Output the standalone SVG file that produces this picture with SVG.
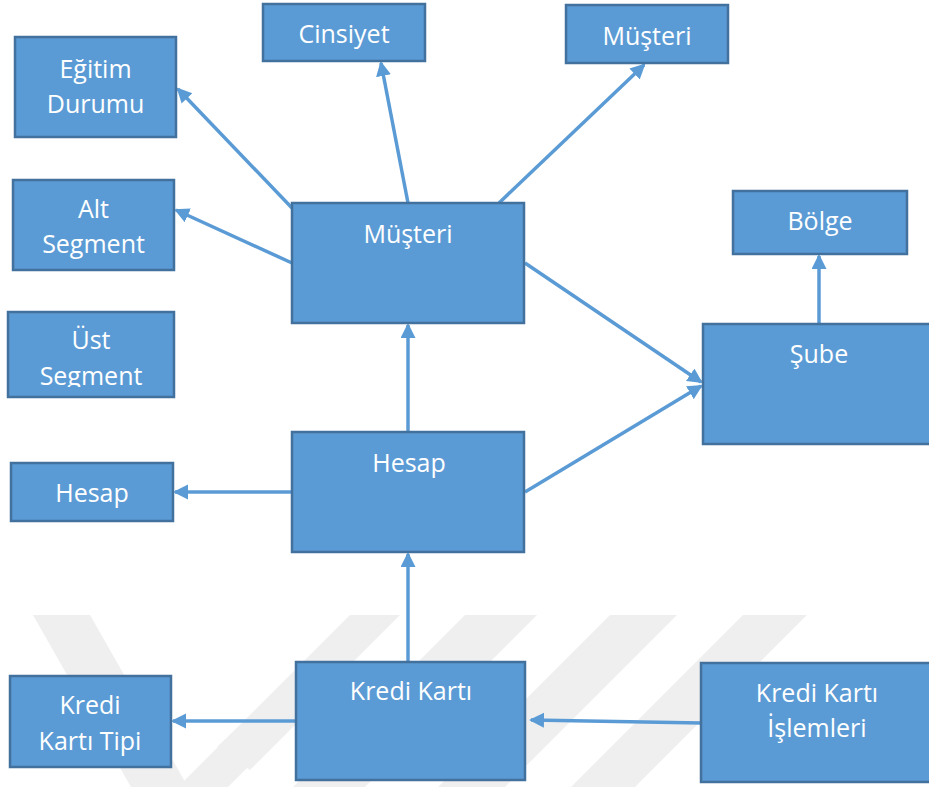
<svg xmlns="http://www.w3.org/2000/svg" width="929" height="787" viewBox="0 0 929 787">
  <defs>
    <style>
      .box { fill: #5B9BD5; stroke: #41719C; stroke-width: 2.5; }
      .lbl { fill: #FFFFFF; font-family: "Open Sans", "Noto Sans", "Liberation Sans", sans-serif; font-size: 25px; text-anchor: middle; }
      .link { fill: none; stroke: #5B9BD5; stroke-width: 3.5; marker-end: url(#arrow); }
      .mark { fill: #EFEFEF; }
    </style>
    <marker id="arrow" markerUnits="userSpaceOnUse" markerWidth="18" markerHeight="16" refX="13" refY="7.5" orient="auto">
      <path d="M0,0 L15,7.5 L0,15 z" fill="#5B9BD5"/>
    </marker>
    <clipPath id="ustClip">
      <rect x="8" y="312" width="166" height="75"/>
    </clipPath>
  </defs>

  <rect x="0" y="0" width="929" height="787" fill="#FFFFFF"/>

  <!-- faint background emblem -->
  <g id="watermark">
    <polygon class="mark" points="33,615 90,615 188,787 131,787"/>
    <polygon class="mark" points="217,747 300,667 330,690 250,770"/>
    <polygon class="mark" points="350,615 400,615 228,787 178,787"/>
    <polygon class="mark" points="465,615 537,615 365,787 293,787"/>
    <polygon class="mark" points="610,615 677,615 505,787 438,787"/>
    <polygon class="mark" points="743,615 807,615 635,787 571,787"/>
  </g>

  <!-- connectors -->
  <g id="connectors">
    <path class="link" d="M292,208 L178,89"/>
    <path class="link" d="M408,203 L381,63"/>
    <path class="link" d="M292,263 L176,210"/>
    <path class="link" d="M499,203 L644,65"/>
    <path class="link" d="M525,263 L701,382"/>
    <path class="link" d="M525,492 L701,386"/>
    <path class="link" d="M408,432 L408,325"/>
    <path class="link" d="M819,324 L819,256"/>
    <path class="link" d="M292,492 L175,492"/>
    <path class="link" d="M408,662 L408,554"/>
    <path class="link" d="M296,721 L173,721"/>
    <path class="link" d="M701,723 L531,720"/>
  </g>

  <g id="egitim-durumu">
    <rect class="box" x="15" y="37" width="161" height="100"/>
    <text class="lbl" x="95.5" y="78">Eğitim</text>
    <text class="lbl" x="95.5" y="113">Durumu</text>
  </g>

  <g id="cinsiyet">
    <rect class="box" x="263" y="4" width="162" height="57"/>
    <text class="lbl" x="344" y="43">Cinsiyet</text>
  </g>

  <g id="musteri-top">
    <rect class="box" x="566" y="5" width="162" height="58"/>
    <text class="lbl" x="647" y="45">Müşteri</text>
  </g>

  <g id="alt-segment">
    <rect class="box" x="13" y="180" width="161" height="90"/>
    <text class="lbl" x="93.5" y="218">Alt</text>
    <text class="lbl" x="93.5" y="253">Segment</text>
  </g>

  <g id="ust-segment">
    <rect class="box" x="8" y="312" width="166" height="85"/>
    <g clip-path="url(#ustClip)">
      <text class="lbl" x="91" y="349">Üst</text>
      <text class="lbl" x="91" y="385">Segment</text>
    </g>
  </g>

  <g id="musteri">
    <rect class="box" x="292" y="203" width="232" height="120"/>
    <text class="lbl" x="408" y="243">Müşteri</text>
  </g>

  <g id="bolge">
    <rect class="box" x="733" y="191" width="174" height="63"/>
    <text class="lbl" x="820" y="230">Bölge</text>
  </g>

  <g id="sube">
    <rect class="box" x="703" y="324" width="232" height="120"/>
    <text class="lbl" x="819" y="363">Şube</text>
  </g>

  <g id="hesap">
    <rect class="box" x="292" y="432" width="232" height="120"/>
    <text class="lbl" x="409" y="472">Hesap</text>
  </g>

  <g id="hesap-small">
    <rect class="box" x="11" y="463" width="162" height="58"/>
    <text class="lbl" x="92" y="502">Hesap</text>
  </g>

  <g id="kredi-karti">
    <rect class="box" x="296" y="662" width="229" height="118"/>
    <text class="lbl" x="411" y="700">Kredi Kartı</text>
  </g>

  <g id="kredi-karti-tipi">
    <rect class="box" x="10" y="676" width="161" height="91"/>
    <text class="lbl" x="90" y="714">Kredi</text>
    <text class="lbl" x="90" y="750">Kartı Tipi</text>
  </g>

  <g id="kredi-karti-islemleri">
    <rect class="box" x="701" y="663" width="232" height="119"/>
    <text class="lbl" x="817" y="702">Kredi Kartı</text>
    <text class="lbl" x="817" y="737">İşlemleri</text>
  </g>
</svg>
